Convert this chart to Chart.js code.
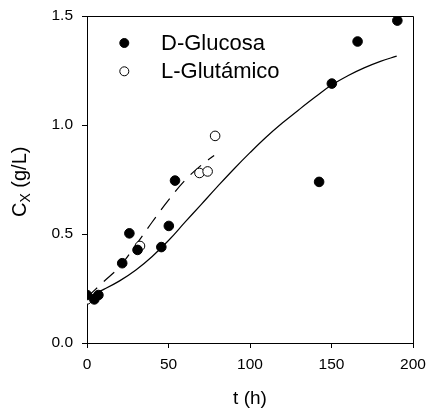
<!DOCTYPE html>
<html>
<head>
<meta charset="utf-8">
<script src="https://cdn.jsdelivr.net/npm/chart.js"></script>
<style>
  body { margin: 0; background: #fff; }
  #caja { width: 428px; height: 408px; }
</style>
</head>
<body>
<div id="caja"><canvas id="grafico" width="428" height="408"></canvas></div>
<script>
// D-Glucosa (puntos llenos)
const tGlucosa = [0, 4.5, 7, 21.6, 26, 31, 45.6, 50.2, 54, 142.4, 150.2, 166, 190.4];
const cGlucosa = [0.22, 0.20, 0.22, 0.366, 0.503, 0.427, 0.44, 0.537, 0.745, 0.739, 1.19, 1.383, 1.479];

// L-Glutámico (puntos vacíos)
const tGlutamico = [0, 32.5, 69, 74, 78.6];
const cGlutamico = [0.20, 0.445, 0.78, 0.787, 0.95];

// curva ajustada continua (D-Glucosa)
const tAjusteGlc = [0, 10, 20, 30, 40, 50, 60, 70, 80, 90, 100, 110, 120, 130, 140, 150, 160, 170, 180, 190];
const cAjusteGlc = [0.21, 0.245, 0.285, 0.335, 0.397, 0.47, 0.553, 0.635, 0.717, 0.797, 0.873, 0.945, 1.01, 1.07, 1.128, 1.183, 1.226, 1.262, 1.292, 1.316];

// curva ajustada a trazos (L-Glutámico)
const tAjusteGlu = [0, 10, 20, 30, 40, 50, 60, 70, 78];
const cAjusteGlu = [0.21, 0.28, 0.35, 0.45, 0.555, 0.655, 0.745, 0.815, 0.86];

const ticksX = [0, 50, 100, 150, 200];
const ticksY = [0.0, 0.5, 1.0, 1.5];

const fuente = "'Liberation Sans', Arial, Helvetica, sans-serif";
Chart.defaults.font.family = fuente;
Chart.defaults.color = '#000';

function pares(xs, ys) {
    return xs.map((x, i) => ({ x: x, y: ys[i] }));
}

// marco superior y derecho
const marco = {
    id: 'marco',
    afterDraw(chart) {
        const { ctx, chartArea } = chart;
        ctx.save();
        ctx.strokeStyle = '#000';
        ctx.lineWidth = 1;
        ctx.beginPath();
        ctx.moveTo(chartArea.left, chartArea.top + 0.5);
        ctx.lineTo(chartArea.right + 0.5, chartArea.top + 0.5);
        ctx.lineTo(chartArea.right + 0.5, chartArea.bottom);
        ctx.stroke();
        ctx.restore();
    }
};

// leyenda dentro del área del gráfico
const leyenda = {
    id: 'leyenda',
    afterDraw(chart) {
        const ctx = chart.ctx;
        const items = chart.data.datasets.filter(d => d.enLeyenda);
        ctx.save();
        items.forEach((d, i) => {
            const y = 43 + i * 28.3;
            ctx.beginPath();
            ctx.arc(124.3, y, 4.5, 0, Math.PI * 2);
            ctx.fillStyle = d.pointBackgroundColor;
            ctx.fill();
            ctx.lineWidth = 1;
            ctx.strokeStyle = '#000';
            ctx.stroke();
            ctx.fillStyle = '#000';
            ctx.font = '22px ' + fuente;
            ctx.textAlign = 'left';
            ctx.textBaseline = 'middle';
            ctx.fillText(d.label, 161, y + 1);
        });
        ctx.restore();
    }
};

// título del eje Y con subíndice
const tituloY = {
    id: 'tituloY',
    afterDraw(chart) {
        const ctx = chart.ctx;
        ctx.save();
        ctx.translate(26, 217);
        ctx.rotate(-Math.PI / 2);
        ctx.fillStyle = '#000';
        ctx.textAlign = 'left';
        ctx.textBaseline = 'alphabetic';
        ctx.font = '20px ' + fuente;
        ctx.fillText('C', 0, 0);
        let x = ctx.measureText('C').width;
        ctx.font = '14px ' + fuente;
        ctx.fillText('X', x, 4);
        x += ctx.measureText('X').width;
        ctx.font = '20px ' + fuente;
        ctx.fillText(' (g/L)', x, 0);
        ctx.restore();
    }
};

const grafico = new Chart(document.getElementById('grafico'), {
    type: 'scatter',
    data: {
        datasets: [
            {
                label: 'D-Glucosa',
                enLeyenda: true,
                data: pares(tGlucosa, cGlucosa),
                pointRadius: 4.8,
                pointBackgroundColor: '#000',
                pointBorderColor: '#000',
                pointBorderWidth: 1
            },
            {
                label: 'L-Glutámico',
                enLeyenda: true,
                data: pares(tGlutamico, cGlutamico),
                pointRadius: 4.8,
                pointBackgroundColor: '#fff',
                pointBorderColor: '#000',
                pointBorderWidth: 1
            },
            {
                label: 'ajuste glucosa',
                data: pares(tAjusteGlc, cAjusteGlc),
                showLine: true,
                pointRadius: 0,
                borderColor: '#000',
                borderWidth: 1.2,
                tension: 0.4
            },
            {
                label: 'ajuste glutámico',
                data: pares(tAjusteGlu, cAjusteGlu),
                showLine: true,
                pointRadius: 0,
                borderColor: '#000',
                borderWidth: 1.2,
                borderDash: [14, 9],
                tension: 0.4
            }
        ]
    },
    options: {
        responsive: false,
        animation: false,
        events: [],
        layout: { padding: { left: 0, top: 16, right: 15, bottom: 0 } },
        plugins: {
            legend: { display: false },
            tooltip: { enabled: false }
        },
        scales: {
            x: {
                type: 'linear',
                min: 0,
                max: 200,
                afterFit: s => { s.height = 65; s.paddingLeft = 0; s.paddingRight = 0; },
                afterBuildTicks: s => { s.ticks = ticksX.map(v => ({ value: v })); },
                grid: { drawOnChartArea: false, tickLength: 5, color: '#000' },
                border: { color: '#000', width: 1 },
                ticks: { font: { size: 15.5 }, padding: 7, maxRotation: 0 },
                title: {
                    display: true,
                    text: 't (h)',
                    font: { size: 19, lineHeight: 1 },
                    padding: { top: 0, bottom: 0 }
                }
            },
            y: {
                type: 'linear',
                min: 0,
                max: 1.5,
                afterFit: s => { s.width = 87; s.paddingTop = 0; s.paddingBottom = 0; },
                afterBuildTicks: s => { s.ticks = ticksY.map(v => ({ value: v })); },
                grid: { drawOnChartArea: false, tickLength: 5, color: '#000' },
                border: { color: '#000', width: 1 },
                ticks: { font: { size: 15.5 }, padding: 9, callback: v => v.toFixed(1) }
            }
        }
    },
    plugins: [marco, leyenda, tituloY]
});
</script>
</body>
</html>
